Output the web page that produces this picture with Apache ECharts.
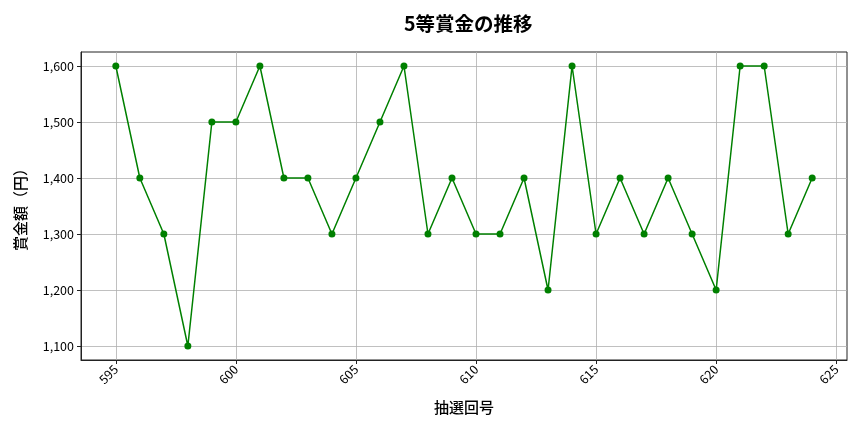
<!DOCTYPE html>
<html><head><meta charset="utf-8">
<script src="https://cdn.jsdelivr.net/npm/echarts@6/dist/echarts.min.js"></script>
<style>html,body{margin:0;padding:0;background:#fff}#c{width:864px;height:432px}</style>
</head><body><div id="c"></div>
<script>
const draws = [595,596,597,598,599,600,601,602,603,604,605,606,607,608,609,610,611,612,613,614,615,616,617,618,619,620,621,622,623,624];
const prizes = [1600,1400,1300,1100,1500,1500,1600,1400,1400,1300,1400,1500,1600,1300,1400,1300,1300,1400,1200,1600,1300,1400,1300,1400,1300,1200,1600,1600,1300,1400];
const xTicks = [595,600,605,610,615,620,625];
const yTicks = [1100,1200,1300,1400,1500,1600];
const FONT = '"Noto Sans CJK JP", "Noto Sans", sans-serif';
const chart = echarts.init(document.getElementById('c'));
chart.setOption({
  animation: false,
  title: {text: '5等賞金の推移', left: 399, top: 9,
    textStyle: {fontFamily: FONT, fontSize: 19.5, fontWeight: 'bold', color: '#000'}},
  grid: {left: 81, right: 17, top: 52, bottom: 72, containLabel: false,
    show: true, borderColor: '#222', borderWidth: 1, backgroundColor: 'transparent'},
  xAxis: {
    type: 'value', min: 593.55, max: 625.45,
    name: '抽選回号', nameLocation: 'middle', nameGap: 40,
    nameTextStyle: {fontFamily: FONT, fontSize: 15, fontWeight: 500, color: '#000'},
    axisLine: {show: true, onZero: false, lineStyle: {color: '#222', width: 1}},
    axisTick: {show: true, length: 4, lineStyle: {color: '#222'}, customValues: xTicks},
    axisLabel: {customValues: xTicks, rotate: 45, fontFamily: FONT, fontSize: 12.5, color: '#000', margin: 7},
    splitLine: {show: true, lineStyle: {color: '#b0b0b0', width: 0.8}}
  },
  yAxis: {
    type: 'value', min: 1075, max: 1625,
    name: '賞金額（円）', nameLocation: 'middle', nameGap: 53,
    nameTextStyle: {fontFamily: FONT, fontSize: 15, fontWeight: 500, color: '#000'},
    axisLine: {show: true, lineStyle: {color: '#222', width: 1}},
    axisTick: {show: true, length: 4, lineStyle: {color: '#222'}, customValues: yTicks},
    axisLabel: {customValues: yTicks, fontFamily: FONT, fontSize: 12.5, color: '#000', margin: 7,
      formatter: v => v.toLocaleString('en-US')},
    splitLine: {show: true, lineStyle: {color: '#b0b0b0', width: 0.8}}
  },
  series: [{
    type: 'line', data: draws.map((d, i) => [d, prizes[i]]),
    symbol: 'circle', symbolSize: 7,
    lineStyle: {color: '#008000', width: 1.5},
    itemStyle: {color: '#008000'}
  }]
});
</script>
</body></html>
